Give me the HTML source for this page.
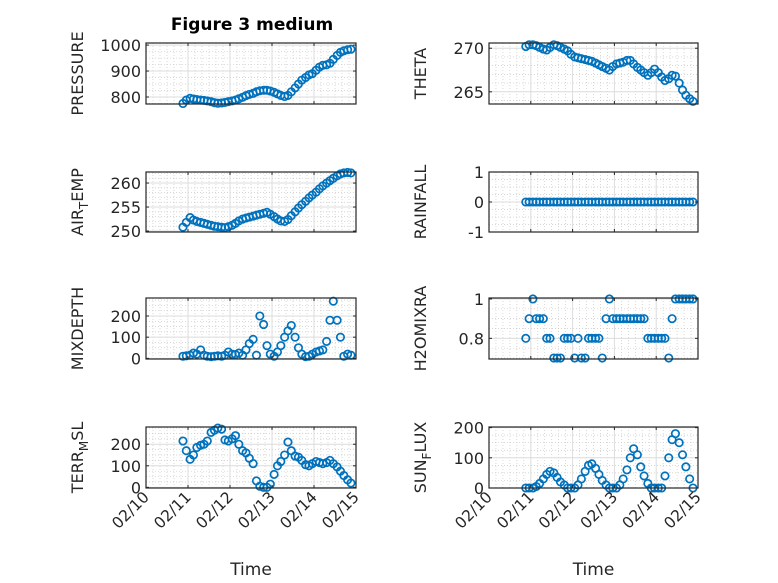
<!DOCTYPE html>
<html><head><meta charset="utf-8"><style>
html,body{margin:0;padding:0;background:#fff;}
svg{display:block;font-family:"DejaVu Sans","Liberation Sans",sans-serif;}
</style></head><body>
<svg id="fig" width="778" height="583" viewBox="0 0 778 583">
<rect width="778" height="583" fill="#fff"/>
<text x="252" y="30" text-anchor="middle" font-size="17" font-weight="bold" fill="#000">Figure 3 medium</text>
</svg>
<script>
const times=[10.88,10.96,11.05,11.13,11.21,11.30,11.38,11.46,11.55,11.63,11.71,11.80,11.88,11.96,12.05,12.13,12.21,12.30,12.38,12.46,12.55,12.63,12.71,12.80,12.88,12.96,13.05,13.13,13.21,13.30,13.38,13.46,13.55,13.63,13.71,13.80,13.88,13.96,14.05,14.13,14.21,14.30,14.38,14.46,14.55,14.63,14.71,14.80,14.88];
const pressure=[775,788,795,792,790,788,787,785,782,778,776,777,779,782,785,788,793,799,805,810,814,820,824,826,826,823,818,812,806,802,806,820,835,850,865,875,885,890,903,915,922,924,930,945,960,972,978,982,984];
const theta=[270.2,270.4,270.4,270.3,270.1,269.9,269.8,270.1,270.4,270.3,270.1,269.9,269.7,269.3,269.0,268.9,268.8,268.7,268.6,268.5,268.3,268.1,267.9,267.7,267.5,267.9,268.2,268.3,268.4,268.6,268.6,268.2,267.8,267.5,267.2,266.9,267.2,267.6,267.2,266.7,266.3,266.5,266.9,266.8,266.0,265.2,264.6,264.2,263.9];
const airTemp=[250.8,251.8,252.8,252.3,252.0,251.8,251.6,251.4,251.2,251.0,250.9,250.8,250.7,250.9,251.2,251.6,252.1,252.5,252.7,252.9,253.1,253.3,253.5,253.7,253.9,253.5,253.0,252.5,252.1,252.0,252.4,253.2,254.0,254.8,255.5,256.2,256.9,257.5,258.1,258.8,259.4,260.0,260.5,261.0,261.5,261.9,262.1,262.2,262.1];
const rainfall=[0,0,0,0,0,0,0,0,0,0,0,0,0,0,0,0,0,0,0,0,0,0,0,0,0,0,0,0,0,0,0,0,0,0,0,0,0,0,0,0,0,0,0,0,0,0,0,0,0];
const mixDepth=[10,12,15,25,20,40,15,10,8,10,12,10,15,30,20,18,25,15,40,70,90,15,200,160,60,20,10,30,60,100,130,155,100,50,20,8,10,20,30,35,40,80,180,270,180,100,10,20,15];
const h2oMixRatio=[0.8,0.9,1,0.9,0.9,0.9,0.8,0.8,0.7,0.7,0.7,0.8,0.8,0.8,0.7,0.8,0.7,0.7,0.8,0.8,0.8,0.8,0.7,0.9,1,0.9,0.9,0.9,0.9,0.9,0.9,0.9,0.9,0.9,0.9,0.8,0.8,0.8,0.8,0.8,0.8,0.7,0.9,1,1,1,1,1,1];
const terrMsl=[215,170,130,150,185,195,200,215,255,265,275,270,220,215,225,240,200,170,160,135,110,30,5,0,0,15,60,100,120,150,210,170,145,140,125,105,100,110,120,115,110,115,125,110,95,75,55,35,20];
const sunFlux=[0,0,0,5,15,30,45,55,50,35,20,10,0,0,0,10,30,55,75,80,65,45,25,10,0,0,0,10,30,60,100,130,110,70,40,15,0,0,0,0,40,100,160,180,150,110,70,30,0];
const xTickVals=[10,11,12,13,14,15];
const xTickLabels=["02/10","02/11","02/12","02/13","02/14","02/15"];

const NS="http://www.w3.org/2000/svg";
const svg=document.getElementById('fig');
function mk(tag,attrs,parent){const e=document.createElementNS(NS,tag);for(const k in attrs)e.setAttribute(k,attrs[k]);(parent||svg).appendChild(e);return e;}

const panels=[
 {name:'pressure',x0:146,x1:356,y0:43,y1:104,ymin:773,ymax:1008,ticks:[800,900,1000],minor:25,data:pressure,label:['PRESSURE'],xlab:false},
 {name:'theta',x0:489,x1:698,y0:43,y1:104,ymin:263.6,ymax:270.6,ticks:[265,270],minor:1,data:theta,label:['THETA'],xlab:false},
 {name:'air-temp',x0:146,x1:356,y0:172,y1:232,ymin:249.8,ymax:262.3,ticks:[250,255,260],minor:1,data:airTemp,label:['AIR','T','EMP'],xlab:false},
 {name:'rainfall',x0:489,x1:698,y0:172,y1:232,ymin:-1,ymax:1,ticks:[-1,0,1],minor:0.25,data:rainfall,label:['RAINFALL'],xlab:false},
 {name:'mixdepth',x0:146,x1:356,y0:298,y1:359,ymin:-3,ymax:285,ticks:[0,100,200],minor:25,data:mixDepth,label:['MIXDEPTH'],xlab:false},
 {name:'h2omixra',x0:489,x1:698,y0:298,y1:359,ymin:0.695,ymax:1.005,ticks:[0.8,1],minor:0.05,data:h2oMixRatio,label:['H2OMIXRA'],xlab:false},
 {name:'terr-msl',x0:146,x1:356,y0:427,y1:488,ymin:-3,ymax:280,ticks:[0,100,200],minor:25,data:terrMsl,label:['TERR','M','SL'],xlab:true},
 {name:'sun-flux',x0:489,x1:698,y0:427,y1:488,ymin:0,ymax:202,ticks:[0,100,200],minor:25,data:sunFlux,label:['SUN','F','LUX'],xlab:true}
];

panels.forEach(p=>{
 const g=mk('g',{});
 
 
 const sx=v=>p.x0+(v-10)/5*(p.x1-p.x0);
 const sy=v=>p.y1-(v-p.ymin)/(p.ymax-p.ymin)*(p.y1-p.y0);
 for(let d=10;d<15;d++)for(let j=1;j<6;j++){const x=sx(d+j/6);const l=mk('line',{x1:x,x2:x,y1:p.y0,y2:p.y1,stroke:'#c8c8c8','stroke-width':0.7,'stroke-dasharray':'1,2'},g);}
 const start=Math.ceil(p.ymin/p.minor);
 for(let k=start;k*p.minor<=p.ymax;k++){const v=k*p.minor;if(p.ticks.some(t=>Math.abs(t-v)<1e-6))continue;const y=sy(v);const l=mk('line',{x1:p.x0,x2:p.x1,y1:y,y2:y,stroke:'#c8c8c8','stroke-width':0.7,'stroke-dasharray':'1,2'},g);}
 xTickVals.forEach(v=>{const x=sx(v);const l=mk('line',{x1:x,x2:x,y1:p.y0,y2:p.y1,stroke:'#dcdcdc','stroke-width':1},g);});
 p.ticks.forEach(v=>{const y=sy(v);const l=mk('line',{x1:p.x0,x2:p.x1,y1:y,y2:y,stroke:'#dcdcdc','stroke-width':1},g);});
 const dg=mk('g',{},g);
 
 
 times.forEach((t,i)=>{const c=mk('circle',{cx:sx(t),cy:sy(p.data[i]),r:3.7,fill:'none',stroke:'#0072BD','stroke-width':1.7},dg);});
 const b=mk('rect',{x:p.x0,y:p.y0,width:p.x1-p.x0,height:p.y1-p.y0,fill:'none',stroke:'#262626','stroke-width':1.2},g);
 
 
 xTickVals.forEach((v,i)=>{const x=sx(v);
  mk('line',{x1:x,x2:x,y1:p.y1,y2:p.y1-3,stroke:'#262626'},g);mk('line',{x1:x,x2:x,y1:p.y0,y2:p.y0+3,stroke:'#262626'},g);
  if(p.xlab){const tx=mk('text',{x:x+4,y:p.y1+10,'text-anchor':'end','font-size':15.5,fill:'#262626',transform:`rotate(-45 ${x+4} ${p.y1+10})`},g);tx.textContent=xTickLabels[i];}
 });
 p.ticks.forEach(v=>{const y=sy(v);
  mk('line',{x1:p.x0,x2:p.x0+3,y1:y,y2:y,stroke:'#262626'},g);mk('line',{x1:p.x1,x2:p.x1-3,y1:y,y2:y,stroke:'#262626'},g);
  const tx=mk('text',{x:p.x0-5,y:y+6,'text-anchor':'end','font-size':16,fill:'#262626'},g);tx.textContent=String(v);
 });
 const lx=p.x0-63, ly=(p.y0+p.y1)/2;
 const yl=mk('text',{x:lx,y:ly,'text-anchor':'middle','font-size':16,fill:'#262626',transform:`rotate(-90 ${lx} ${ly})`},g);
 
 
 if(p.label.length===1){yl.textContent=p.label[0];}
 else{const a=mk('tspan',{},yl);a.textContent=p.label[0];const s=mk('tspan',{dy:5,'font-size':12},yl);s.textContent=p.label[1];const c=mk('tspan',{dy:-5},yl);c.textContent=p.label[2];}
 if(p.xlab){const xt=mk('text',{x:(p.x0+p.x1)/2,y:575,'text-anchor':'middle','font-size':17,fill:'#262626'},g);xt.textContent='Time';}
});
</script>
</body></html>
